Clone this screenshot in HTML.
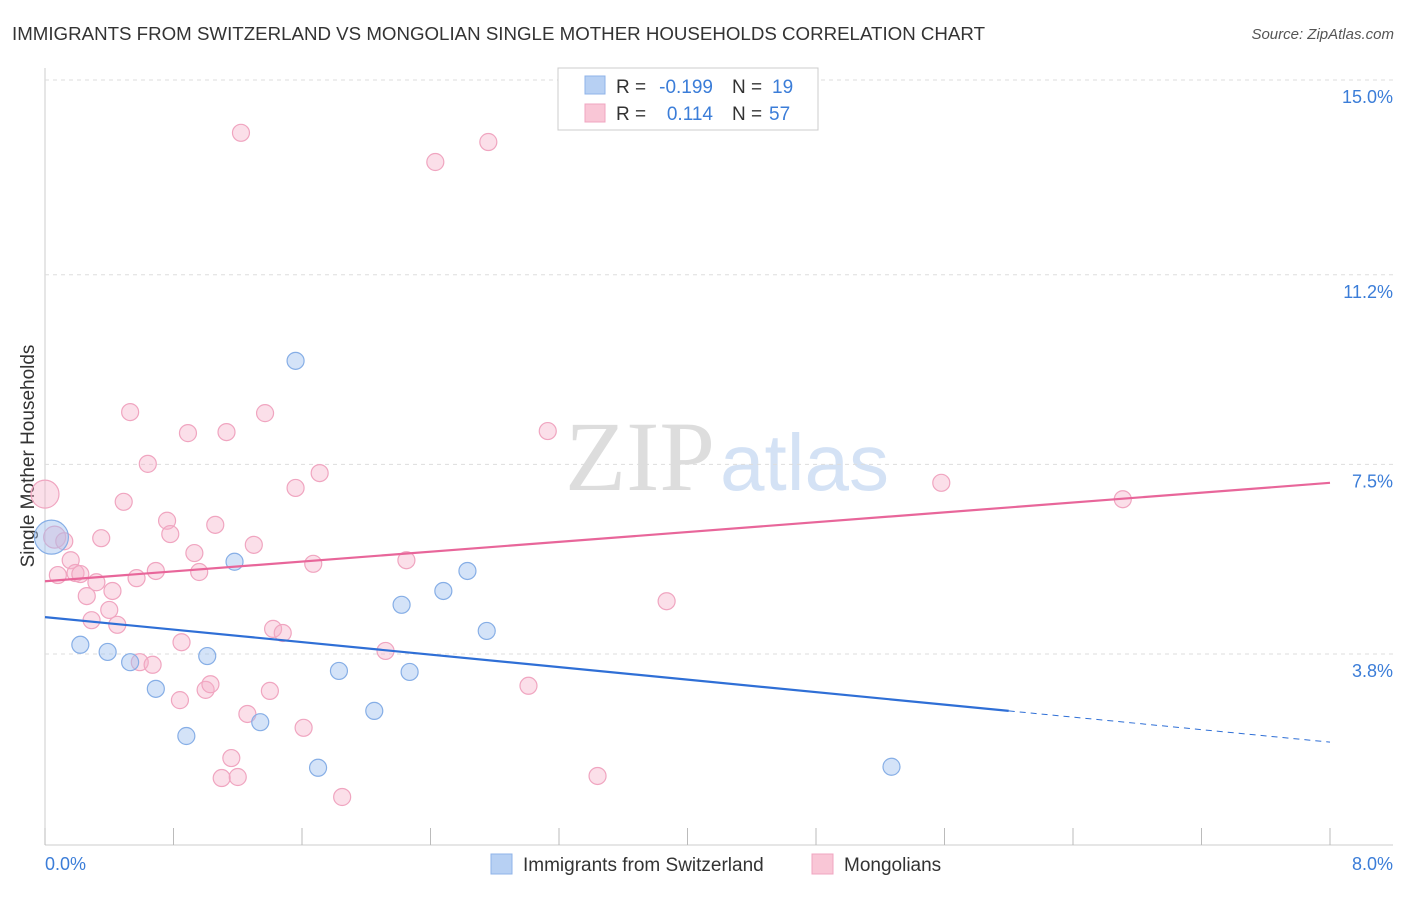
<!DOCTYPE html>
<html><head><meta charset="utf-8"><style>
body{margin:0;background:#fff;font-family:"Liberation Sans",sans-serif}
svg text{font-family:"Liberation Sans",sans-serif}
</style></head><body>
<svg id="c" width="1406" height="892">
<text x="12" y="40" font-size="18" fill="#333" textLength="973" lengthAdjust="spacingAndGlyphs">IMMIGRANTS FROM SWITZERLAND VS MONGOLIAN SINGLE MOTHER HOUSEHOLDS CORRELATION CHART</text>
<text x="1394" y="39" font-size="15" fill="#555" text-anchor="end" font-style="italic">Source: ZipAtlas.com</text>
<text x="715" y="490" font-size="100" fill="#ddd" text-anchor="end" style="font-family:'Liberation Serif',serif">ZIP</text>
<text x="720" y="490" font-size="80" fill="#d4e2f5">atlas</text>
<text transform="translate(34,456) rotate(-90)" font-size="19" fill="#333" text-anchor="middle">Single Mother Households</text>
<g id="grid"></g><g id="marks"></g>
<g>
<rect x="558" y="68" width="260" height="62" fill="#fff" stroke="#ccc"/>
<rect x="585" y="76" width="20" height="18" fill="#b7d0f3" stroke="#8fb3e8"/>
<rect x="585" y="104" width="20" height="18" fill="#f9c6d6" stroke="#f0a5c0"/>
<text x="616" y="93" font-size="19" fill="#333">R =</text>
<text x="713" y="93" font-size="19" fill="#3b7dd8" text-anchor="end">-0.199</text>
<text x="732" y="93" font-size="19" fill="#333">N =</text>
<text x="772" y="93" font-size="19" fill="#3b7dd8">19</text>
<text x="616" y="120" font-size="19" fill="#333">R =</text>
<text x="713" y="120" font-size="19" fill="#3b7dd8" text-anchor="end">0.114</text>
<text x="732" y="120" font-size="19" fill="#333">N =</text>
<text x="769" y="120" font-size="19" fill="#3b7dd8">57</text>
</g>
<g>
<rect x="491" y="854" width="21" height="20" fill="#b7d0f3" stroke="#8fb3e8"/>
<text x="523" y="871" font-size="19" fill="#333">Immigrants from Switzerland</text>
<rect x="812" y="854" width="21" height="20" fill="#f9c6d6" stroke="#f0a5c0"/>
<text x="844" y="871" font-size="19" fill="#333">Mongolians</text>
</g>
</svg>
<script>
const xTicks=[0,0.8,1.6,2.4,3.2,4.0,4.8,5.6,6.4,7.2,8.0];
const yTicks=[3.8,7.5,11.2,15.0];
const yTickLabels=["3.8%","7.5%","11.2%","15.0%"];
const blueX=[0.04,0.22,0.39,0.53,0.69,0.88,1.01,1.18,1.34,1.56,1.70,1.83,2.05,2.22,2.27,2.48,2.63,2.75,5.27];
const blueY=[6.08,3.98,3.84,3.64,3.12,2.20,3.76,5.60,2.47,9.52,1.58,3.47,2.69,4.76,3.45,5.03,5.42,4.25,1.60];
const pinkX=[0.00,0.06,0.08,0.12,0.16,0.19,0.22,0.26,0.29,0.32,0.35,0.40,0.42,0.45,0.49,0.53,0.57,0.59,0.64,0.67,0.69,0.76,0.78,0.85,0.84,0.89,0.93,0.96,1.00,1.03,1.06,1.13,1.10,1.16,1.20,1.22,1.26,1.30,1.37,1.40,1.42,1.48,1.56,1.61,1.67,1.71,1.85,2.12,2.25,2.43,2.76,3.01,3.13,3.44,3.87,5.58,6.71];
const pinkY=[6.92,6.08,5.34,6.00,5.63,5.38,5.36,4.93,4.46,5.20,6.06,4.66,5.03,4.37,6.77,8.52,5.28,3.64,7.51,3.59,5.42,6.40,6.14,4.03,2.90,8.11,5.77,5.40,3.10,3.21,6.32,8.13,1.38,1.77,1.40,13.97,2.63,5.93,8.50,3.08,4.29,4.21,7.04,2.36,5.56,7.33,1.01,3.86,5.63,13.40,13.79,3.18,8.15,1.42,4.83,7.14,6.82];
const blueTrend=[4.52,2.08], pinkTrend=[5.22,7.14];
const X=v=>45+v/8*1285, Y=v=>80+(15-v)*51.25;
const NS="http://www.w3.org/2000/svg";
function mk(t,a,p){const e=document.createElementNS(NS,t);for(const k in a)e.setAttribute(k,a[k]);p.appendChild(e);return e;}
const g=document.getElementById('grid'), m=document.getElementById('marks');
const ax=mk('line',{x1:45,y1:68,x2:45,y2:845,stroke:'#ccc'},g);


const bx=mk('line',{x1:45,y1:845,x2:1393,y2:845,stroke:'#ccc'},g);


yTicks.forEach((v,i)=>{
 const l=mk('line',{x1:45,x2:1393,y1:Y(v),y2:Y(v),stroke:'#ddd','stroke-dasharray':'4,4'},g);
 
 
 const t=mk('text',{x:1393,y:Y(v)+23,'font-size':18,fill:'#3b7dd8','text-anchor':'end'},g);
 t.textContent=yTickLabels[i];
 
 
});
xTicks.forEach(v=>{
 const l=mk('line',{x1:X(v),x2:X(v),y1:828,y2:845,stroke:'#bbb'},g);
 
 
});
[[0,'0.0%','start',45],[8,'8.0%','end',1393]].forEach(a=>{
 const t=mk('text',{x:a[3],y:870,'font-size':18,fill:'#3b7dd8','text-anchor':a[2]},g);
 t.textContent=a[1];
 
 
});
function pts(xs,ys,fill,stroke,name){
 xs.forEach((x,i)=>{
  let r=8.5;
  if(name==='blue-point'&&i===0)r=17;
  if(name==='pink-point'&&i===0)r=14;
  if(name==='pink-point'&&i===1)r=11;
  const c=mk('circle',{cx:X(x),cy:Y(ys[i]),r:r,fill:fill,stroke:stroke,'stroke-width':1.2},m);
  
  
 });
}
pts(pinkX,pinkY,'rgba(246,175,200,0.4)','#f0a5c0','pink-point');
pts(blueX,blueY,'rgba(160,192,240,0.45)','#86aee6','blue-point');
const bt=v=>blueTrend[0]+(blueTrend[1]-blueTrend[0])*v/8;
const l1=mk('line',{x1:X(0),y1:Y(bt(0)),x2:X(6),y2:Y(bt(6)),stroke:'#2f6fd6','stroke-width':2.2},m);


const l2=mk('line',{x1:X(6),y1:Y(bt(6)),x2:X(8),y2:Y(bt(8)),stroke:'#2f6fd6','stroke-width':1,'stroke-dasharray':'6,5'},m);


const l3=mk('line',{x1:X(0),y1:Y(pinkTrend[0]),x2:X(8),y2:Y(pinkTrend[1]),stroke:'#e8669a','stroke-width':2.2},m);


</script>
</body></html>
